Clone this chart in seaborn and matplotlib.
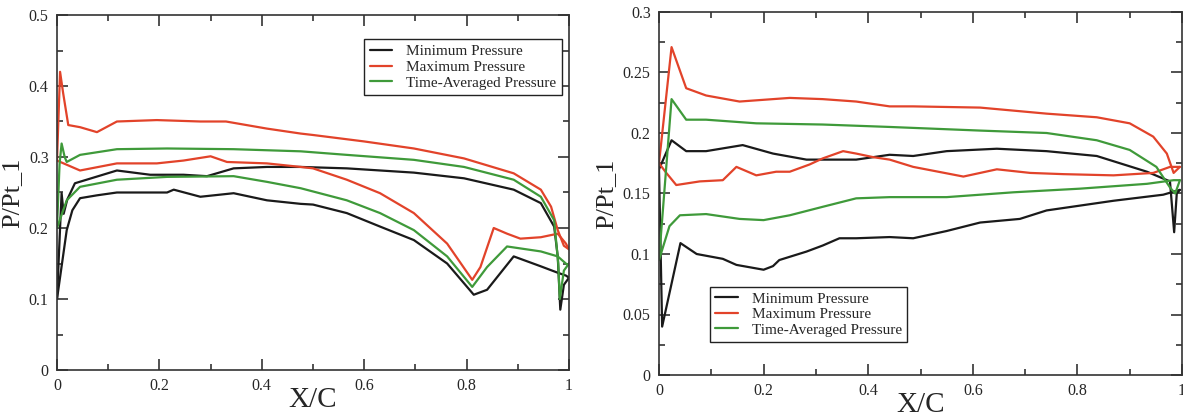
import numpy as np
import pandas as pd
import seaborn as sns
import matplotlib.pyplot as plt
from matplotlib.ticker import MultipleLocator, FormatStrFormatter

series_names = ["Minimum Pressure", "Maximum Pressure", "Time-Averaged Pressure"]
colors = ["#1a1a1a", "#e2432a", "#3f9a3a"]

# ---- left panel (each quantity: lower and upper surface branch)
L_min_lo_x = [0.0, 0.019, 0.03, 0.045, 0.078, 0.117, 0.215, 0.228, 0.28, 0.345, 0.41, 0.476, 0.50, 0.566, 0.631,
              0.697, 0.762, 0.814, 0.84, 0.892, 0.945, 0.978, 0.994, 1.0]
L_min_lo_y = [0.10, 0.197, 0.225, 0.242, 0.246, 0.25, 0.25, 0.254, 0.244, 0.249, 0.239, 0.234, 0.233, 0.221, 0.202,
              0.183, 0.150, 0.106, 0.113, 0.16, 0.146, 0.137, 0.133, 0.13]
L_min_up_x = [0.0, 0.006, 0.009, 0.013, 0.02, 0.035, 0.117, 0.182, 0.247, 0.293, 0.345, 0.41, 0.476, 0.566, 0.697,
              0.795, 0.892, 0.945, 0.971, 0.978, 0.983, 0.99, 1.0]
L_min_up_y = [0.10, 0.20, 0.249, 0.22, 0.24, 0.263, 0.281, 0.275, 0.275, 0.273, 0.284, 0.286, 0.286, 0.284, 0.278,
              0.27, 0.254, 0.235, 0.202, 0.16, 0.085, 0.12, 0.13]

L_max_lo_x = [0.0, 0.045, 0.117, 0.195, 0.247, 0.30, 0.332, 0.41, 0.476, 0.50, 0.566, 0.631, 0.697, 0.762, 0.811,
              0.827, 0.853, 0.879, 0.905, 0.945, 0.978, 0.994, 1.0]
L_max_lo_y = [0.295, 0.281, 0.291, 0.291, 0.295, 0.301, 0.293, 0.291, 0.286, 0.284, 0.268, 0.249, 0.221, 0.178,
              0.127, 0.145, 0.20, 0.192, 0.185, 0.187, 0.192, 0.178, 0.17]
L_max_up_x = [0.0, 0.006, 0.012, 0.022, 0.045, 0.078, 0.117, 0.195, 0.28, 0.33, 0.41, 0.476, 0.50, 0.599, 0.697,
              0.795, 0.892, 0.945, 0.965, 0.978, 0.99, 1.0]
L_max_up_y = [0.295, 0.42, 0.39, 0.345, 0.342, 0.335, 0.35, 0.352, 0.35, 0.35, 0.34, 0.333, 0.331, 0.322, 0.312,
              0.298, 0.277, 0.254, 0.23, 0.197, 0.175, 0.17]

L_avg_lo_x = [0.0, 0.019, 0.045, 0.117, 0.215, 0.345, 0.41, 0.476, 0.566, 0.631, 0.697, 0.762, 0.811, 0.84, 0.879,
              0.945, 0.978, 0.997, 1.0]
L_avg_lo_y = [0.20, 0.239, 0.258, 0.268, 0.272, 0.273, 0.265, 0.256, 0.239, 0.221, 0.197, 0.160, 0.117, 0.145,
              0.174, 0.167, 0.16, 0.148, 0.15]
L_avg_up_x = [0.0, 0.005, 0.009, 0.015, 0.019, 0.045, 0.117, 0.215, 0.345, 0.476, 0.566, 0.697, 0.795, 0.892,
              0.945, 0.971, 0.979, 0.982, 0.99, 1.0]
L_avg_up_y = [0.20, 0.29, 0.319, 0.30, 0.293, 0.303, 0.311, 0.312, 0.311, 0.308, 0.303, 0.296, 0.286, 0.268,
              0.244, 0.211, 0.15, 0.10, 0.14, 0.15]

# ---- right panel
R_min_lo_x = [0.0, 0.006, 0.041, 0.072, 0.122, 0.148, 0.2, 0.218, 0.23, 0.282, 0.313, 0.345, 0.377, 0.441, 0.486,
              0.55, 0.614, 0.69, 0.741, 0.805, 0.869, 0.964, 0.996]
R_min_lo_y = [0.17, 0.04, 0.109, 0.10, 0.096, 0.091, 0.087, 0.09, 0.095, 0.102, 0.107, 0.113, 0.113, 0.114, 0.113,
              0.119, 0.126, 0.129, 0.136, 0.14, 0.144, 0.149, 0.153]
R_min_up_x = [0.0, 0.024, 0.052, 0.09, 0.16, 0.218, 0.282, 0.377, 0.441, 0.486, 0.55, 0.646, 0.741, 0.837, 0.933,
              0.977, 0.985, 0.99, 0.996]
R_min_up_y = [0.17, 0.194, 0.185, 0.185, 0.19, 0.183, 0.178, 0.178, 0.182, 0.181, 0.185, 0.187, 0.185, 0.181,
              0.168, 0.160, 0.118, 0.15, 0.153]

R_max_lo_x = [0.0, 0.014, 0.033, 0.078, 0.122, 0.148, 0.186, 0.224, 0.25, 0.288, 0.313, 0.352, 0.377, 0.41, 0.441,
              0.486, 0.582, 0.646, 0.71, 0.773, 0.869, 0.945, 0.977, 0.996]
R_max_lo_y = [0.175, 0.167, 0.157, 0.16, 0.161, 0.172, 0.165, 0.168, 0.168, 0.174, 0.179, 0.185, 0.183, 0.18, 0.178,
              0.172, 0.164, 0.17, 0.167, 0.166, 0.165, 0.167, 0.172, 0.172]
R_max_up_x = [0.0, 0.024, 0.052, 0.09, 0.154, 0.25, 0.313, 0.377, 0.441, 0.486, 0.614, 0.741, 0.837, 0.9, 0.945,
              0.971, 0.984, 0.996]
R_max_up_y = [0.175, 0.271, 0.237, 0.231, 0.226, 0.229, 0.228, 0.226, 0.222, 0.222, 0.221, 0.216, 0.213, 0.208,
              0.197, 0.183, 0.167, 0.172]

R_avg_lo_x = [0.0, 0.02, 0.04, 0.09, 0.154, 0.2, 0.25, 0.313, 0.377, 0.441, 0.55, 0.678, 0.805, 0.933, 0.984, 0.996]
R_avg_lo_y = [0.095, 0.123, 0.132, 0.133, 0.129, 0.128, 0.132, 0.139, 0.146, 0.147, 0.147, 0.151, 0.154, 0.158,
              0.161, 0.161]
R_avg_up_x = [0.0, 0.024, 0.052, 0.09, 0.186, 0.313, 0.441, 0.614, 0.741, 0.837, 0.9, 0.951, 0.977, 0.987, 0.996]
R_avg_up_y = [0.095, 0.228, 0.211, 0.211, 0.208, 0.207, 0.205, 0.202, 0.2, 0.194, 0.186, 0.172, 0.155, 0.15, 0.161]


def build(branches):
    frames = []
    for name, (lx, ly, ux, uy) in zip(series_names, branches):
        frames.append(pd.DataFrame({"x": lx, "p": ly, "series": name, "branch": name + "_lo"}))
        frames.append(pd.DataFrame({"x": ux, "p": uy, "series": name, "branch": name + "_up"}))
    return pd.concat(frames, ignore_index=True)


left_df = build([(L_min_lo_x, L_min_lo_y, L_min_up_x, L_min_up_y),
                 (L_max_lo_x, L_max_lo_y, L_max_up_x, L_max_up_y),
                 (L_avg_lo_x, L_avg_lo_y, L_avg_up_x, L_avg_up_y)])
right_df = build([(R_min_lo_x, R_min_lo_y, R_min_up_x, R_min_up_y),
                  (R_max_lo_x, R_max_lo_y, R_max_up_x, R_max_up_y),
                  (R_avg_lo_x, R_avg_lo_y, R_avg_up_x, R_avg_up_y)])

sns.set_style("ticks")
plt.rcParams["font.family"] = ["Liberation Serif", "DejaVu Serif"]

fig = plt.figure(figsize=(11.83, 4.17), dpi=100)
ax1 = fig.add_axes([57 / 1183, 1 - 370 / 417, 512 / 1183, 355 / 417])
ax2 = fig.add_axes([659 / 1183, 1 - 375 / 417, 523 / 1183, 363 / 417])

palette = dict(zip(series_names, colors))

for ax, df, ymax, ymaj, ymin, legloc in [
        (ax1, left_df, 0.5, 0.1, 0.05, (0.60, 0.775)),
        (ax2, right_df, 0.3, 0.05, 0.025, (0.097, 0.091))]:
    sns.lineplot(data=df, x="x", y="p", hue="series", units="branch", estimator=None, sort=False,
                 palette=palette, hue_order=series_names, linewidth=1.6, ax=ax)
    ax.set_xlim(0, 1)
    ax.set_ylim(0, ymax)
    ax.xaxis.set_major_locator(MultipleLocator(0.2))
    ax.xaxis.set_minor_locator(MultipleLocator(0.1))
    ax.yaxis.set_major_locator(MultipleLocator(ymaj))
    ax.yaxis.set_minor_locator(MultipleLocator(ymin))
    ax.xaxis.set_major_formatter(FormatStrFormatter("%g"))
    ax.yaxis.set_major_formatter(FormatStrFormatter("%g"))
    ax.tick_params(which="both", direction="in", top=True, right=True, labelsize=11.5, width=1.2, color="#333333")
    ax.tick_params(which="major", length=8, pad=6)
    ax.tick_params(which="minor", length=4)
    for s in ax.spines.values():
        s.set_linewidth(1.2)
        s.set_color("#333333")
    ax.set_xlabel("X/C", fontsize=21, labelpad=-5)
    ax.set_ylabel("P/Pt_1", fontsize=19, labelpad=4)
    ax.legend(loc="lower left", bbox_to_anchor=legloc, frameon=True, fancybox=False, edgecolor="#222222",
              fontsize=11, handlelength=1.5, handletextpad=0.9, borderpad=0.35, labelspacing=0.12,
              framealpha=1, borderaxespad=0)

fig.savefig("out.png", dpi=100)
